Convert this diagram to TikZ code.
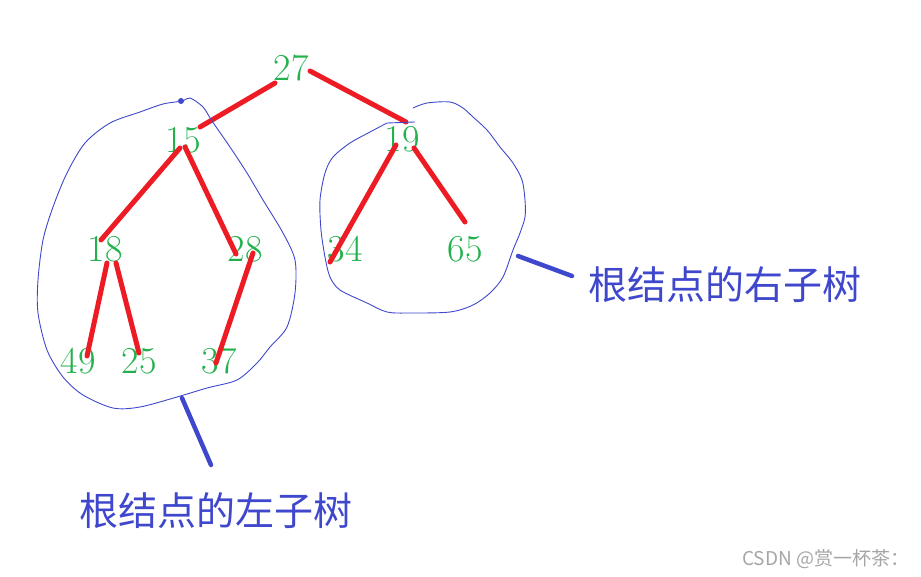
\documentclass[tikz,border=0pt]{standalone}
\usepackage{xcolor}
\usepackage{tikz}
\usetikzlibrary{positioning, calc}
\usepackage{fontspec}
\newfontfamily\cjk{Noto Sans CJK SC}
\definecolor{tree-green}{HTML}{22B14C}
\definecolor{tree-red}{HTML}{ED1C24}
\definecolor{tree-blue}{HTML}{3F48CC}
\definecolor{mark-gray}{HTML}{A6A6A6}

\begin{document}
\begin{tikzpicture}[
    x=1pt, y=-1pt,
    num/.style={inner sep=0, text=tree-green, font=\fontsize{38}{38}\selectfont},
    edge/.style={tree-red, line width=5pt, line cap=round},
    loop/.style={tree-blue, line width=0.9pt},
    ptr/.style={tree-blue, line width=4.5pt, line cap=round},
    lbl/.style={inner sep=0, text=tree-blue, font=\cjk\fontsize{39}{39}\selectfont},
]
    \useasboundingbox (0,0) rectangle (921,576);

    % Tree nodes
    \node[num] (n27) at (291,68) {27};
    \node[num] (n15) at (183,140) {15};
    \node[num] (n19) at (402,139) {19};
    \node[num] (n18) at (105,249) {18};
    \node[num] (n28) at (245,249) {28};
    \node[num] (n34) at (345,249) {34};
    \node[num] (n65) at (465,249) {65};
    \node[num] (n49) at (78,361) {49};
    \node[num] (n25) at (139,361) {25};
    \node[num] (n37) at (219,361) {37};

    % Edges
    \draw[edge] ($(n27)+(-16,15)$) -- ($(n15)+(17,-13)$);
    \draw[edge] ($(n27)+(19,3)$) -- ($(n19)+(4,-17)$);
    \draw[edge] ($(n15)+(-3,8)$) -- ($(n18)+(-4,-9)$);
    \draw[edge] ($(n15)+(2,7)$) -- ($(n28)+(-9,5)$);
    \draw[edge] ($(n18)+(2,14)$) -- ($(n49)+(9,-5)$);
    \draw[edge] ($(n18)+(11,14)$) -- ($(n25)+(0,-8)$);
    \draw[edge] ($(n28)+(8,4)$) -- ($(n37)+(-3,2)$);
    \draw[edge] ($(n19)+(-6,6)$) -- ($(n34)+(-15,13)$);
    \draw[edge] ($(n19)+(12,9)$) -- ($(n65)+(0,-27)$);

    % Left subtree loop
    \draw[loop] plot[smooth cycle, tension=0.5] coordinates {
        (182,101) (190,98) (203,107) (212,121) (230,147) (247,173) (263,200)
        (283,233) (295,260) (295,293) (287,327) (270,347) (257,363) (237,380)
        (207,388) (177,397) (140,407) (113,408) (83,395) (63,377) (47,350)
        (38,313) (38,280) (43,240) (53,207) (67,173) (85,143) (110,123)
        (140,112) (163,104)};
    \fill[tree-blue] (181,101) circle (3);

    % Right subtree loop
    \draw[loop] plot[smooth, tension=0.5] coordinates {
        (413,108) (427,103) (450,102) (463,108) (473,117) (487,130) (500,147)
        (513,163) (522,180) (525,200) (525,217) (520,233) (513,250) (503,277)
        (490,293) (473,305) (450,312) (410,313) (387,312) (367,303) (340,290)
        (330,277) (325,257) (321,230) (320,200) (325,173) (333,157) (350,143)
        (370,132) (387,123)} -- (415,122);

    % Labels
    \node[lbl] (left) at (216,511) {根结点的左子树};
    \node[lbl] (right) at (725,285) {根结点的右子树};
    \coordinate (lp) at (182,398);
    \coordinate (lq) at (211,465);
    \coordinate (rp) at (518,256);
    \coordinate (rq) at (572,276);
    \draw[ptr] (lp) -- (lq);
    \draw[ptr] (rp) -- (rq);

    % Watermark
    \node[inner sep=0, anchor=west, text=mark-gray, font=\cjk\fontsize{19}{19}\selectfont]
        (mark) at (742,559) {CSDN @赏一杯茶：};
\end{tikzpicture}
\end{document}
